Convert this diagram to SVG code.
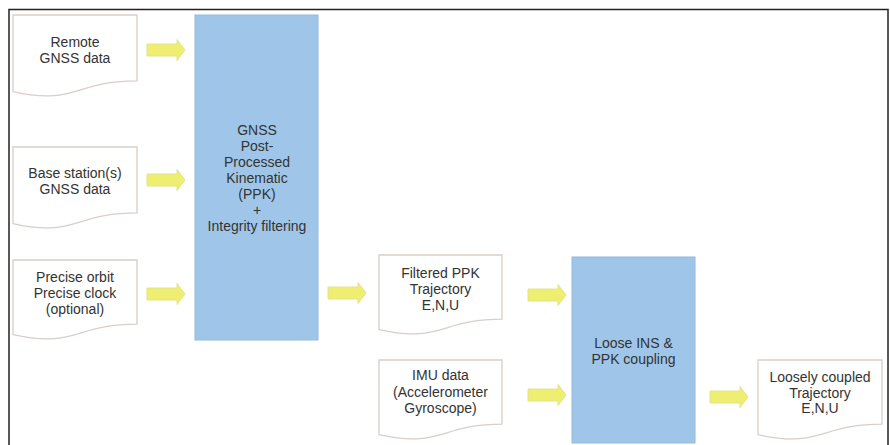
<svg xmlns="http://www.w3.org/2000/svg" xmlns:xlink="http://www.w3.org/1999/xlink" width="890" height="445" viewBox="0 0 890 445">
<defs>
<style>
.doc{fill:#ffffff;stroke:#d8ceca;stroke-width:1.3}
.proc{fill:#9fc6e8;stroke:#94badd;stroke-width:1}
.arr{fill:#eeee70;stroke:#e2e48a;stroke-width:1}
text{font-family:"Liberation Sans",Arial,sans-serif;font-size:14px;fill:#333333;text-anchor:middle}
.frame{fill:none;stroke:#222222;stroke-width:1.5}
</style>
<path id="arrow" d="M0,-6 H30 V-10.5 L38,0 L30,10.5 V6 H0 Z"/>
</defs>
<rect width="890" height="445" fill="#ffffff"/>
<path class="frame" d="M9,445 V9.5 H888 V445"/>

<g id="connectors">
<use xlink:href="#arrow" class="arr" transform="translate(147,50)"/>
<use xlink:href="#arrow" class="arr" transform="translate(147,180)"/>
<use xlink:href="#arrow" class="arr" transform="translate(147,294)"/>
<use xlink:href="#arrow" class="arr" transform="translate(328,293)"/>
<use xlink:href="#arrow" class="arr" transform="translate(528,295)"/>
<use xlink:href="#arrow" class="arr" transform="translate(528,395)"/>
<use xlink:href="#arrow" class="arr" transform="translate(710,397)"/>
</g>

<g id="remote">
<path class="doc" d="M13,15 H137 V80.8 C75,80.8 75,105.8 13,91.6 Z"/>
<text x="75" y="47">Remote</text>
<text x="75" y="63">GNSS data</text>
</g>

<g id="base">
<path class="doc" d="M13,147 H137 V212.8 C75,212.8 75,237.8 13,223.6 Z"/>
<text x="75" y="178">Base station(s)</text>
<text x="75" y="194">GNSS data</text>
</g>

<g id="orbit">
<path class="doc" d="M13,260 H137 V324.2 C75,324.2 75,348.6 13,334.7 Z"/>
<text x="75" y="282">Precise orbit</text>
<text x="75" y="298">Precise clock</text>
<text x="75" y="314">(optional)</text>
</g>

<g id="ppk">
<rect class="proc" x="195" y="15" width="123" height="325"/>
<text x="257" y="135">GNSS</text>
<text x="257" y="151">Post-</text>
<text x="257" y="167">Processed</text>
<text x="257" y="183">Kinematic</text>
<text x="257" y="199">(PPK)</text>
<text x="257" y="215">+</text>
<text x="257" y="231">Integrity filtering</text>
</g>

<g id="filtered">
<path class="doc" d="M379,255 H502 V319.2 C440.5,319.2 440.5,343.6 379,329.7 Z"/>
<text x="440.5" y="278">Filtered PPK</text>
<text x="440.5" y="294">Trajectory</text>
<text x="440.5" y="310">E,N,U</text>
</g>

<g id="imu">
<path class="doc" d="M379,360 H502 V424.2 C440.5,424.2 440.5,448.6 379,434.7 Z"/>
<text x="440.5" y="380">IMU data</text>
<text x="440.5" y="397">(Accelerometer</text>
<text x="440.5" y="413">Gyroscope)</text>
</g>

<g id="loose">
<rect class="proc" x="572" y="257" width="123" height="186"/>
<text x="633.5" y="348">Loose INS &amp;</text>
<text x="633.5" y="364">PPK coupling</text>
</g>

<g id="result">
<path class="doc" d="M758,360 H882 V424.2 C820,424.2 820,448.6 758,434.7 Z"/>
<text x="820" y="382">Loosely coupled</text>
<text x="820" y="398">Trajectory</text>
<text x="820" y="413">E,N,U</text>
</g>
</svg>
